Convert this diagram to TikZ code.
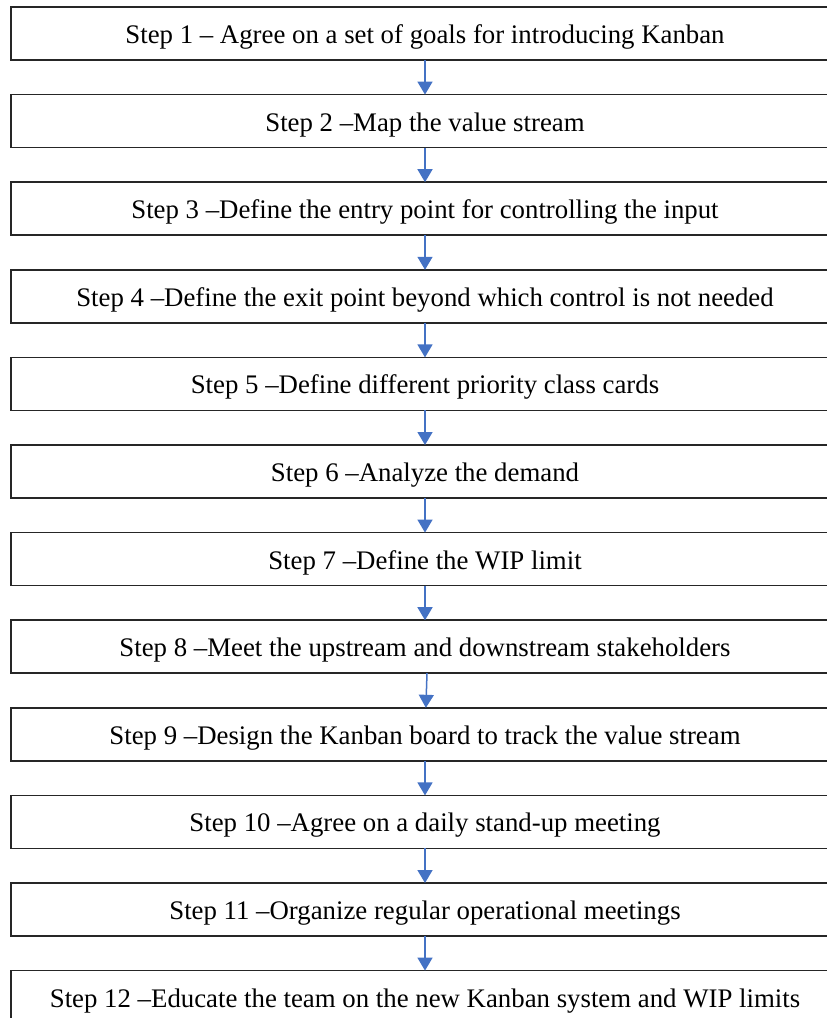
\documentclass[tikz,border=0pt]{standalone}
\usepackage{fontspec}
\setmainfont{Liberation Serif}
\usetikzlibrary{arrows.meta,positioning}
\definecolor{arrowblue}{RGB}{68,114,196}

\begin{document}
\begin{tikzpicture}[
  x=1pt, y=1pt,
  node distance=34.6pt,
  stepbox/.style={draw=black!85,line width=1.5pt,outer sep=0pt,minimum width=828pt,minimum height=53pt,inner sep=0pt,text height=24pt,text depth=4pt,font=\fontsize{26.8}{30}\selectfont},
  edge/.style={-{Triangle[length=13pt,width=15pt]},line width=1.5pt,draw=arrowblue,fill=arrowblue}
]
\path[use as bounding box,clip] (0,0) rectangle (827,-1018);
\node[stepbox] (goals) at (425,-33.5) {Step 1 -- Agree on a set of goals for introducing Kanban};
\node[stepbox,below=of goals] (map) {Step 2 --Map the value stream};
\node[stepbox,below=of map] (entry) {Step 3 --Define the entry point for controlling the input};
\node[stepbox,below=of entry] (exit) {Step 4 --Define the exit point beyond which control is not needed};
\node[stepbox,below=of exit] (classes) {Step 5 --Define different priority class cards};
\node[stepbox,below=of classes] (demand) {Step 6 --Analyze the demand};
\node[stepbox,below=of demand] (wip) {Step 7 --Define the WIP limit};
\node[stepbox,below=of wip] (meet) {Step 8 --Meet the upstream and downstream stakeholders};
\node[stepbox,below=of meet] (board) {Step 9 --Design the Kanban board to track the value stream};
\node[stepbox,below=of board] (standup) {Step 10 --Agree on a daily stand-up meeting};
\node[stepbox,below=of standup] (ops) {Step 11 --Organize regular operational meetings};
\node[stepbox,below=of ops] (educate) {Step 12 --Educate the team on the new Kanban system and WIP limits};
\draw[edge] (goals) -- (map);
\draw[edge] (map) -- (entry);
\draw[edge] (entry) -- (exit);
\draw[edge] (exit) -- (classes);
\draw[edge] (classes) -- (demand);
\draw[edge] (demand) -- (wip);
\draw[edge] (wip) -- (meet);
\draw[edge] ([xshift=2pt]meet.south) -- (board);
\draw[edge] (board) -- (standup);
\draw[edge] (standup) -- (ops);
\draw[edge] (ops) -- (educate);
\end{tikzpicture}
\end{document}
